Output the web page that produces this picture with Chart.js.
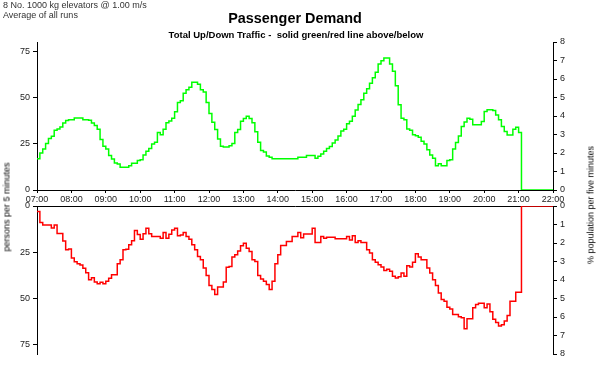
<!DOCTYPE html>
<html><head><meta charset="utf-8">
<script src="https://cdn.jsdelivr.net/npm/chart.js@4.4.1/dist/chart.umd.min.js"></script>
<style>
html,body{margin:0;padding:0;background:#fff;width:602px;height:371px;overflow:hidden;font-family:"Liberation Sans",Arial,sans-serif;}
#wrap{position:relative;width:602px;height:371px;}
canvas{position:absolute;left:0;}
.t{position:absolute;white-space:nowrap;line-height:1;}
.r{position:absolute;white-space:nowrap;line-height:1;transform:translate(-50%,-50%) rotate(-90deg);}
</style></head><body>
<div id="wrap">
<canvas id="topChart" width="602" height="206" style="top:0px"></canvas>
<canvas id="botChart" width="602" height="175" style="top:196px"></canvas>
<div class="t" style="left:3px;top:1.2px;font-size:9px;color:#333">8 No. 1000 kg elevators @ 1.00 m/s</div>
<div class="t" style="left:3px;top:10.5px;font-size:9px;color:#333">Average of all runs</div>
<div class="t" style="left:295px;top:10.8px;font-size:14.4px;font-weight:bold;color:#000;transform:translateX(-50%)">Passenger Demand</div>
<div class="t" style="left:296px;top:29.5px;font-size:9.5px;font-weight:bold;color:#000;transform:translateX(-50%)">Total Up/Down Traffic -&nbsp; solid green/red line above/below</div>
<div class="r" style="left:7px;top:207px;font-size:9px;color:#000">persons per 5 minutes</div>
<div class="r" style="left:591px;top:205px;font-size:9px;color:#000">% population per five minutes</div>
</div>
<script>
// Hour tick labels (every 12 five-minute steps)
const hourLabels = ['07:00','08:00','09:00','10:00','11:00','12:00','13:00','14:00','15:00','16:00','17:00','18:00','19:00','20:00','21:00','22:00'];

// Up traffic (persons per 5 minutes), 5-minute steps from 07:00 to 22:00
const upTraffic = [
  17, 20.1, 22.3, 25.2, 28, 29.2, 32.4, 33.2, 34.2, 36.4, 37.7, 38.2,
  38.2, 39.1, 39.1, 39.1, 38.2, 38.2, 37.9, 36.4, 35, 33, 27.4, 23.7,
  22.3, 18.8, 16.8, 14.7, 14.1, 12.3, 12.3, 12.3, 13.2, 14.5, 14.5, 16,
  16.5, 19, 21, 22.5, 25, 26, 31.3, 30, 33, 36.5, 37.5, 39,
  42.5, 47.5, 48.5, 52.5, 54.5, 55.8, 58.5, 58.5, 57.5, 54.5, 53.3, 47.6,
  41.5, 36.8, 32.8, 27.7, 23.7, 23.4, 23.4, 24, 25.2, 31.3, 32.8, 37.3,
  38.8, 40, 38.8, 36.5, 31.7, 26, 21.5, 20.7, 18.5, 17.8, 17, 17,
  17, 17, 17, 17, 17, 17, 17, 17.8, 17.8, 17.8, 18.8, 18.8,
  18.8, 17.2, 18.3, 19.5, 21, 22.5, 23.6, 25.5, 27.2, 29.3, 32, 33,
  36, 37.4, 40, 43.5, 46.4, 49, 52.6, 55, 58, 61, 64, 68.5,
  70.2, 71.7, 71.7, 68.5, 64.5, 56.6, 46.3, 39, 38.2, 33.2, 32.5, 30,
  29.5, 28.7, 26.5, 25, 21.8, 19, 17.2, 13.2, 14.2, 13.2, 13.2, 16,
  16.5, 22.3, 25.8, 29.4, 34.5, 37, 39, 38.5, 35.4, 35.4, 35.4, 37.2,
  42.6, 43.6, 43.6, 43.2, 40.8, 38.1, 34.5, 31.8, 29.9, 29.9, 33, 34.1,
  31.2, 0, 0, 0, 0, 0, 0, 0, 0, 0, 0, 0
];

// Down traffic (persons per 5 minutes), same time steps
const downTraffic = [
  3, 9, 10.3, 10.3, 10.3, 12, 10.3, 15, 15, 19, 23.8, 23.4,
  28.3, 30.3, 31.4, 32, 33.8, 36.2, 40, 39, 41.3, 42.2, 41.4, 42.2,
  40.9, 39.3, 37.3, 37.3, 31.4, 29.2, 23.8, 23.5, 21.1, 18.9, 13.3, 15.5,
  18, 15.1, 12.1, 15.1, 16.6, 16.6, 16.6, 17.5, 14.4, 17.5, 15.3, 13,
  12.1, 16.2, 15.7, 14.4, 16.6, 18, 21.1, 23.8, 27.4, 29.2, 33.7, 37.8,
  43.2, 45.4, 48.1, 44, 44, 41.3, 33.3, 32.8, 27.7, 26.5, 24.5, 21.6,
  20.2, 22.9, 24.7, 29.2, 30.1, 37.8, 39.6, 40.9, 42.7, 45.4, 40.9, 31.4,
  26.5, 21.4, 21.4, 19.3, 19.3, 16.6, 16.6, 14.4, 17.3, 15.2, 15.2, 15.2,
  12.1, 19.8, 19.8, 16.6, 17.5, 17, 17, 17, 17.8, 17.8, 17.8, 17.8,
  16.6, 18.5, 16.2, 19.8, 18.9, 19.8, 19.8, 23.8, 25.6, 29.2, 30.5, 31.9,
  33.2, 35, 34.3, 35.5, 38.2, 39.1, 38.5, 36.4, 38.2, 32.4, 33.2, 30.6,
  25.9, 27.7, 29.2, 29.2, 33.7, 36.4, 40, 43.2, 47.2, 50.8, 51.7, 55,
  56, 58.9, 58.9, 60.2, 60.7, 66.7, 61.3, 61.3, 55.3, 53.5, 52.8, 52.8,
  55.3, 53.3, 57.5, 61.5, 63.3, 65.2, 64.5, 62.5, 59.5, 51.7, 51.7, 46.8,
  46.8, 0, 0, 0, 0, 0, 0, 0, 0, 0, 0, 0
];

const personsMax = 80.4;   // left axis full scale
const percentMax = 8;      // right axis full scale
const stepsPerHour = 12;

function toPoints(arr){
  const pts = arr.map((v,i)=>({x:i,y:v}));
  pts.push({x:arr.length,y:arr[arr.length-1]});
  return pts;
}

const FONT = {family:'"Liberation Sans", Arial, sans-serif', size:9};
const TICKCOL = '#222';

function xScale(showLabels, position){
  return {
    type:'linear', position: position, min:0, max: hourLabels.length*stepsPerHour - stepsPerHour,
    afterBuildTicks: s => { s.ticks = hourLabels.map((l,i)=>({value:i*stepsPerHour})); },
    ticks:{display:showLabels, font:FONT, color:TICKCOL, padding:1, maxRotation:0, autoSkip:false,
      callback:(v)=>hourLabels[Math.round(v/stepsPerHour)]},
    grid:{display:true, drawOnChartArea:false, drawTicks:showLabels, tickLength:3, color:'#000', tickColor:'#000'},
    border:{display:true, color:'#000', width:1},
    afterFit: s => { s.height = showLabels ? 16 : 0; }
  };
}
function yScale(position, max, step, reverse, width){
  return {
    type:'linear', position: position, min:0, max:max, reverse:reverse,
    ticks:{stepSize:step, includeBounds:false, font:FONT, color:TICKCOL, padding:3},
    grid:{display:true, drawOnChartArea:false, drawTicks:true, tickLength:4, color:'#000', tickColor:'#000'},
    border:{display:true, color:'#000', width:1},
    afterFit: s => { s.width = width; }
  };
}

const common = {
  responsive:false, animation:false, events:[],
  plugins:{legend:{display:false}, tooltip:{enabled:false}, title:{display:false}},
  elements:{point:{radius:0}, line:{tension:0}}
};

new Chart(document.getElementById('topChart'), {
  type:'line',
  data:{datasets:[{data:toPoints(upTraffic), borderColor:'#00ff00', borderWidth:1.5, stepped:'before', fill:false, yAxisID:'y', xAxisID:'x'}]},
  options:Object.assign({}, common, {
    layout:{padding:{top:42,left:0,right:0,bottom:0}},
    scales:{
      x: xScale(true,'bottom'),
      y: yScale('left', personsMax, 25, false, 37),
      y1: yScale('right', percentMax, 1, false, 49)
    }
  })
});

new Chart(document.getElementById('botChart'), {
  type:'line',
  data:{datasets:[{data:toPoints(downTraffic), borderColor:'#ff0000', borderWidth:1.5, stepped:'before', fill:false, yAxisID:'y', xAxisID:'x'}]},
  options:Object.assign({}, common, {
    layout:{padding:{top:10,left:0,right:0,bottom:17}},
    scales:{
      x: xScale(false,'top'),
      y: yScale('left', personsMax, 25, true, 37),
      y1: yScale('right', percentMax, 1, true, 49)
    }
  })
});
</script>
</body></html>
